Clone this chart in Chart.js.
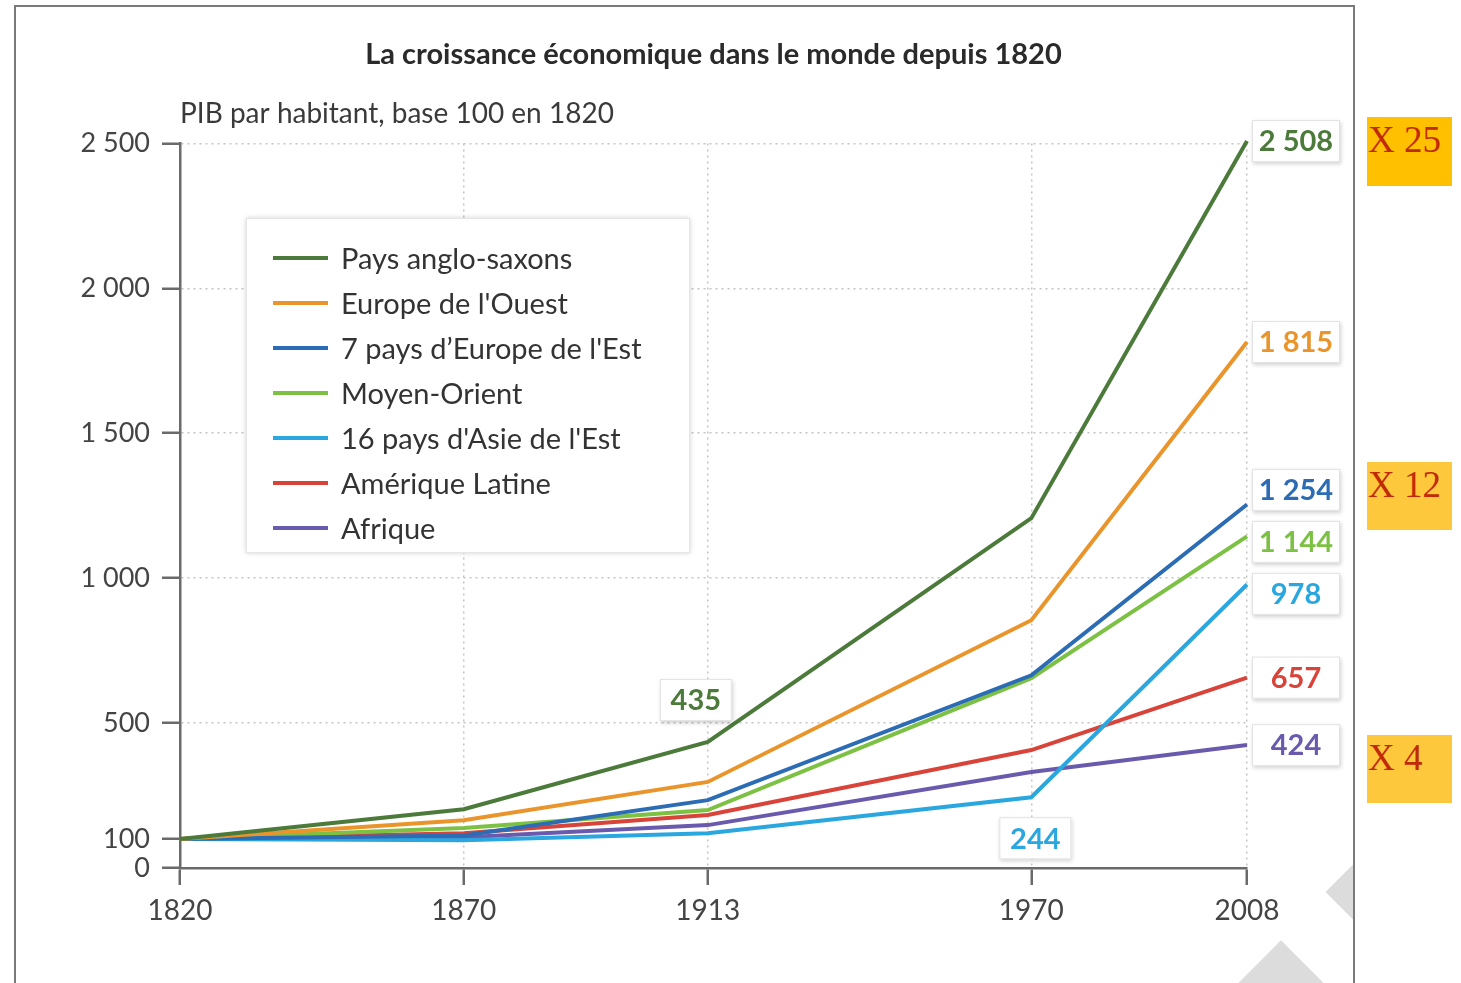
<!DOCTYPE html>
<html lang="fr">
<head>
<meta charset="utf-8">
<title>La croissance économique dans le monde depuis 1820</title>
<script src="https://cdn.jsdelivr.net/npm/chart.js@4.4.0/dist/chart.umd.min.js"></script>
<style>
  body { margin: 0; background: #fff; overflow: hidden; width: 1461px; height: 983px; position: relative; }
  #frame { position: absolute; left: 14px; top: 5px; width: 1337px; height: 1000px; border: 2px solid #7a7a7a; overflow: hidden; z-index: 0; }
  .wm { position: absolute; background: #dcdcdc; transform: rotate(45deg); }
  #chart { position: absolute; left: 0; top: 0; z-index: 1; }
  #legend { position: absolute; left: 246px; top: 218px; width: 444px; height: 335px; background: #fff;
            border: 1px solid #e6e6e6; box-shadow: 0 0 5px rgba(0,0,0,0.18); z-index: 2;
            box-sizing: border-box; padding-top: 16px; font-family: Lato, sans-serif; font-size: 29px; color: #333; }
  #legend .row { height: 45px; display: flex; align-items: center; }
  #legend .swatch { width: 55px; height: 4px; margin-left: 26px; margin-right: 13px; }
  .mult { position: absolute; left: 1367px; width: 85px; height: 68px; font-family: "Liberation Serif", "DejaVu Serif", serif;
          font-size: 37px; color: #c02a06; line-height: 46px; padding-left: 1px; box-sizing: border-box; z-index: 2; }
</style>
</head>
<body>
<div id="frame">
  <div class="wm" style="left:1324px; top:850px; width:70px; height:70px;"></div>
  <div class="wm" style="left:1220px; top:952px; width:90px; height:90px;"></div>
</div>
<canvas id="chart" width="1461" height="983"></canvas>
<div id="legend"></div>
<div class="mult" style="top:117px; height:69px; background:#ffc000;">X 25</div>
<div class="mult" style="top:462px; background:#fdc83c;">X 12</div>
<div class="mult" style="top:735px; background:#fdc83c;">X 4</div>
<script>
// PIB par habitant, base 100 en 1820
const years = [1820, 1870, 1913, 1970, 2008];
const seriesNames = ['Pays anglo-saxons', "Europe de l'Ouest", "7 pays d\u2019Europe de l'Est", 'Moyen-Orient',
                     "16 pays d'Asie de l'Est", 'Amérique Latine', 'Afrique'];
const seriesColors = ['#4b7a3a', '#ea952c', '#2c6cb4', '#7cc143', '#2aa7df', '#d8443a', '#6a5aae'];

const paysAngloSaxons = [100, 203, 435, 1207, 2508];
const europeOuest     = [100, 165, 297, 855, 1815];
const europeEst       = [100, 112, 234, 665, 1254];
const moyenOrient     = [100, 138, 200, 655, 1144];
const asieEst         = [100, 96, 120, 244, 978];
const ameriqueLatine  = [100, 120, 183, 407, 657];
const afrique         = [100, 106, 148, 331, 424];

const seriesValues = [paysAngloSaxons, europeOuest, europeEst, moyenOrient, asieEst, ameriqueLatine, afrique];

const xTicks = [1820, 1870, 1913, 1970, 2008];
const yTicks = [0, 100, 500, 1000, 1500, 2000, 2500];

// points with a value box inside the plot: [series index, year, side]
const callouts = [[0, 1913, 'above'], [4, 1970, 'below']];

const FONT = 'Lato, "Open Sans", sans-serif';
const fmt = v => String(v).replace(/\B(?=(\d{3})+(?!\d))/g, ' ');

function drawValueBox(ctx, cx, cy, w, h, text, color) {
  ctx.save();
  ctx.shadowColor = 'rgba(0,0,0,0.18)';
  ctx.shadowBlur = 4;
  ctx.shadowOffsetX = 1;
  ctx.shadowOffsetY = 2;
  ctx.fillStyle = '#fff';
  ctx.fillRect(cx - w / 2, cy - h / 2, w, h);
  ctx.restore();
  ctx.save();
  ctx.strokeStyle = '#e2e2e2';
  ctx.lineWidth = 1;
  ctx.strokeRect(cx - w / 2 + 0.5, cy - h / 2 + 0.5, w - 1, h - 1);
  ctx.fillStyle = color;
  ctx.font = 'bold 29px ' + FONT;
  ctx.textAlign = 'center';
  ctx.textBaseline = 'middle';
  ctx.fillText(text, cx, cy + 1);
  ctx.restore();
}

// value boxes at the end of each line, and the two callouts
const valueLabels = {
  id: 'valueLabels',
  afterDatasetsDraw(chart) {
    const ctx = chart.ctx;
    const items = chart.data.datasets.map((ds, i) => {
      const meta = chart.getDatasetMeta(i);
      const pt = meta.data[meta.data.length - 1];
      return { x: pt.x, y: pt.y, text: fmt(ds.data[ds.data.length - 1].y), color: ds.borderColor };
    }).sort((a, b) => a.y - b.y);
    const minGap = 52;
    for (let it = 0; it < 60; it++) {
      for (let i = 1; i < items.length; i++) {
        const gap = items[i].y - items[i - 1].y;
        if (gap < minGap) {
          const d = (minGap - gap) / 2;
          items[i - 1].y -= d;
          items[i].y += d;
        }
      }
    }
    items.forEach(it => drawValueBox(ctx, it.x + 49, it.y, 88, 42, it.text, it.color));

    callouts.forEach(([si, year, side]) => {
      const meta = chart.getDatasetMeta(si);
      const idx = years.indexOf(year);
      const pt = meta.data[idx];
      const ds = chart.data.datasets[si];
      const dy = side === 'above' ? -42 : 41;
      drawValueBox(ctx, pt.x + (side === 'above' ? -12 : 4), pt.y + dy, 72, 42, fmt(ds.data[idx].y), ds.borderColor);
    });
  }
};

const datasets = seriesNames.map((name, i) => ({
  label: name,
  data: years.map((yr, j) => ({ x: yr, y: seriesValues[i][j] })),
  borderColor: seriesColors[i],
  backgroundColor: seriesColors[i],
  borderWidth: 4,
  pointRadius: 0,
  tension: 0,
  fill: false,
  clip: false
}));

const chart = new Chart(document.getElementById('chart').getContext('2d'), {
  type: 'line',
  data: { datasets },
  options: {
    responsive: false,
    animation: false,
    layout: { padding: { left: 20, right: 214, top: 0, bottom: 0 } },
    plugins: {
      legend: { display: false },
      tooltip: { enabled: false },
      title: {
        display: true,
        text: 'La croissance économique dans le monde depuis 1820',
        fullSize: false,
        color: '#2a2a2a',
        font: { family: FONT, size: 29, weight: 'bold', lineHeight: 1.2 },
        padding: { top: 37, bottom: 0 }
      },
      subtitle: {
        display: true,
        text: 'PIB par habitant, base 100 en 1820',
        fullSize: false,
        align: 'start',
        color: '#3a3a3a',
        font: { family: FONT, size: 28, lineHeight: 1.2 },
        padding: { top: 25, bottom: 13 }
      }
    },
    scales: {
      x: {
        type: 'linear',
        min: 1820,
        max: 2008,
        afterBuildTicks: scale => { scale.ticks = xTicks.map(v => ({ value: v })); },
        afterFit: scale => { scale.height = 115; },
        ticks: {
          callback: v => String(v),
          color: '#444',
          font: { family: FONT, size: 28 },
          padding: 9,
          maxRotation: 0,
          autoSkip: false
        },
        grid: {
          color: ctx => (ctx.tick && ctx.tick.value === 1820) ? 'rgba(0,0,0,0)' : '#c4c4c4',
          lineWidth: 1.5,
          tickColor: '#6a6a6a',
          tickLength: 17,
          tickWidth: 2.5
        },
        border: { display: true, color: '#6a6a6a', width: 2.5, dash: [2, 4] }
      },
      y: {
        min: 0,
        max: 2500,
        afterBuildTicks: scale => { scale.ticks = yTicks.map(v => ({ value: v })); },
        afterFit: scale => { scale.width = 160; },
        ticks: {
          callback: v => fmt(v),
          color: '#444',
          font: { family: FONT, size: 27 },
          padding: 12,
          autoSkip: false
        },
        grid: {
          color: ctx => (ctx.tick && ctx.tick.value <= 100) ? 'rgba(0,0,0,0)' : '#c4c4c4',
          lineWidth: 1.5,
          tickColor: '#6a6a6a',
          tickLength: 18,
          tickWidth: 2.5
        },
        border: { display: true, color: '#6a6a6a', width: 2.5, dash: [2, 4] }
      }
    }
  },
  plugins: [valueLabels]
});

// legend built from the chart's datasets
const legend = document.getElementById('legend');
chart.data.datasets.forEach(ds => {
  const row = document.createElement('div');
  row.className = 'row';
  const sw = document.createElement('span');
  sw.className = 'swatch';
  sw.style.background = ds.borderColor;
  const label = document.createElement('span');
  label.textContent = ds.label;
  row.appendChild(sw);
  row.appendChild(label);
  legend.appendChild(row);
});
</script>
</body>
</html>
